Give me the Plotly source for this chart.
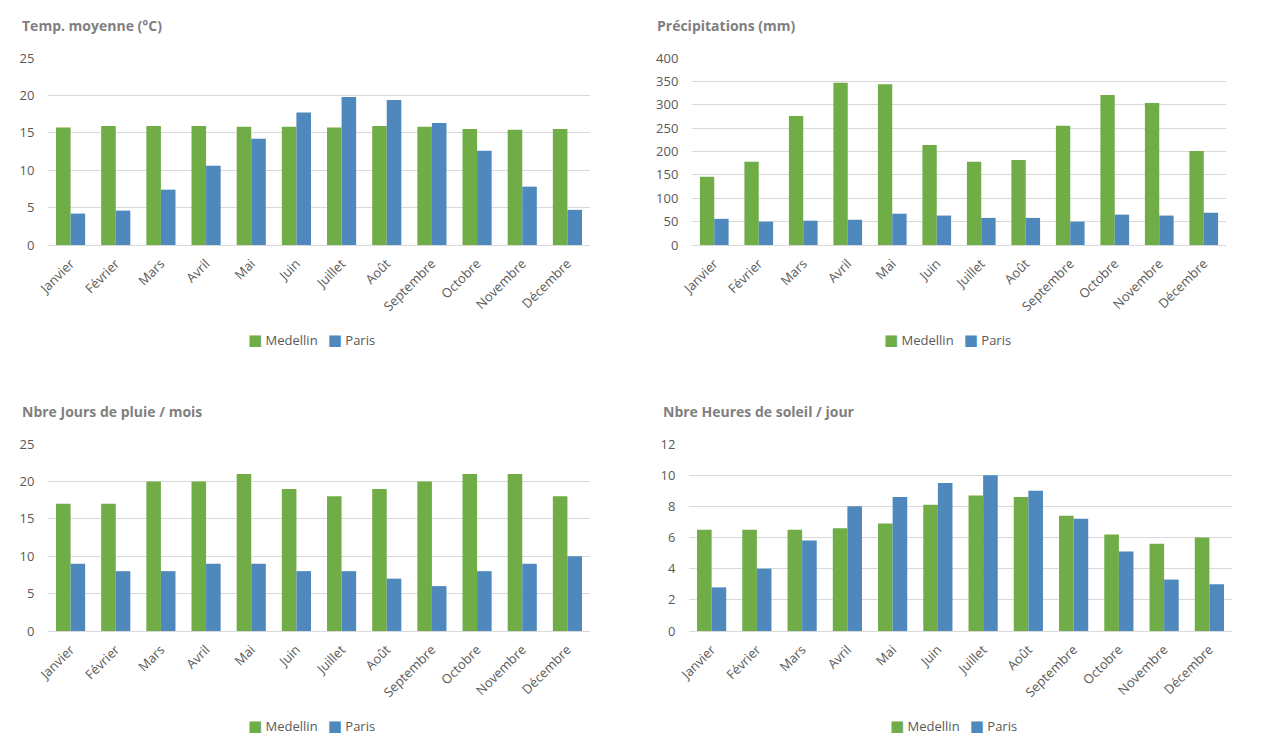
import plotly.graph_objects as go

W, H = 1261, 748

mois = ["Janvier", "Février", "Mars", "Avril", "Mai", "Juin", "Juillet",
        "Août", "Septembre", "Octobre", "Novembre", "Décembre"]

temp_medellin = [15.7, 15.9, 15.9, 15.9, 15.8, 15.8, 15.7, 15.9, 15.8, 15.5, 15.4, 15.5]
temp_paris = [4.2, 4.6, 7.4, 10.6, 14.2, 17.7, 19.8, 19.4, 16.3, 12.6, 7.8, 4.7]

precip_medellin = [146, 178, 276, 347, 344, 214, 178, 182, 255, 321, 304, 201]
precip_paris = [56, 50, 52, 54, 67, 63, 58, 58, 50, 65, 63, 69]

pluie_medellin = [17, 17, 20, 20, 21, 19, 18, 19, 20, 21, 21, 18]
pluie_paris = [9, 8, 8, 9, 9, 8, 8, 7, 6, 8, 9, 10]

soleil_medellin = [6.5, 6.5, 6.5, 6.6, 6.9, 8.1, 8.7, 8.6, 7.4, 6.2, 5.6, 6.0]
soleil_paris = [2.8, 4.0, 5.8, 8.0, 8.6, 9.5, 10.0, 9.0, 7.2, 5.1, 3.3, 3.0]

titres = ["Temp. moyenne (°C)", "Précipitations (mm)",
          "Nbre Jours de pluie / mois", "Nbre Heures de soleil / jour"]
series = ["Medellin", "Paris"]

GREEN = "#70AD47"
BLUE = "#4F88BD"
GRID = "#D9D9D9"
TXT = "#595959"
FONT = "Open Sans"

def px_x(p):
    return p / W

def px_y(p):
    return 1 - p / H

panels = [
    dict(med=temp_medellin, par=temp_paris, xd=(48, 590), yd=(245, 58), rng=25, dt=5,
         title=titres[0], tx=20, ty=25, lx=311, ly=340),
    dict(med=precip_medellin, par=precip_paris, xd=(692, 1226), yd=(245, 58), rng=400, dt=50,
         title=titres[1], tx=655, ty=25, lx=947, ly=340),
    dict(med=pluie_medellin, par=pluie_paris, xd=(48, 590), yd=(631, 444), rng=25, dt=5,
         title=titres[2], tx=20, ty=411, lx=311, ly=726),
    dict(med=soleil_medellin, par=soleil_paris, xd=(689, 1232), yd=(631, 444), rng=12, dt=2,
         title=titres[3], tx=661, ty=411, lx=953, ly=726),
]

fig = go.Figure()
layout = dict(
    width=W, height=H, margin=dict(l=0, r=0, t=0, b=0, pad=0, autoexpand=False),
    paper_bgcolor="white", plot_bgcolor="white",
    barmode="group", bargap=0.355, bargroupgap=0,
    font=dict(family=FONT, color=TXT, size=12),
    showlegend=False,
    annotations=[],
)

SQ = "font-family:DejaVu Sans;font-size:15px"

for i, p in enumerate(panels, start=1):
    sfx = "" if i == 1 else str(i)
    fig.add_trace(go.Bar(x=mois, y=p["med"], name=series[0], marker_color=GREEN,
                         marker_line_width=0, xaxis=f"x{sfx}", yaxis=f"y{sfx}",
                         offsetgroup="a"))
    fig.add_trace(go.Bar(x=mois, y=p["par"], name=series[1], marker_color=BLUE,
                         marker_line_width=0, xaxis=f"x{sfx}", yaxis=f"y{sfx}",
                         offsetgroup="b"))
    layout[f"xaxis{sfx}"] = dict(
        domain=[px_x(p["xd"][0]), px_x(p["xd"][1])], anchor=f"y{sfx}",
        showline=True, linecolor=GRID, linewidth=1, showgrid=False,
        tickangle=-45, tickfont=dict(size=13, color=TXT),
        ticks="outside", ticklen=5, tickcolor="rgba(0,0,0,0)",
        fixedrange=True, automargin=False,
    )
    layout[f"yaxis{sfx}"] = dict(
        domain=[px_y(p["yd"][0]), px_y(p["yd"][1])], anchor=f"x{sfx}",
        range=[0, p["rng"]], dtick=p["dt"], showgrid=True, gridcolor=GRID,
        gridwidth=1, showline=False, zeroline=False, ticks="outside",
        ticklen=10, tickcolor="rgba(0,0,0,0)", tickfont=dict(size=13, color=TXT),
        fixedrange=True, automargin=False,
    )
    # legend drawn as text
    layout["annotations"].append(dict(
        text=(f"<span style='color:{GREEN};{SQ}'>■</span> {series[0]}"
              f"&nbsp;&nbsp;&nbsp;<span style='color:{BLUE};{SQ}'>■</span> {series[1]}"),
        x=px_x(p["lx"]), y=px_y(p["ly"]), xref="paper", yref="paper",
        xanchor="center", yanchor="middle", showarrow=False,
        font=dict(size=13, color=TXT, family=FONT),
    ))
    layout["annotations"].append(dict(
        text=f"<b>{p['title']}</b>", x=px_x(p["tx"]), y=px_y(p["ty"]),
        xref="paper", yref="paper", xanchor="left", yanchor="middle",
        showarrow=False, font=dict(size=14, color="#7F7F7F", family=FONT),
    ))

fig.update_layout(**layout)
fig.write_html("out.html", config={"displayModeBar": False},
               post_script="document.body.style.margin='0px';")
